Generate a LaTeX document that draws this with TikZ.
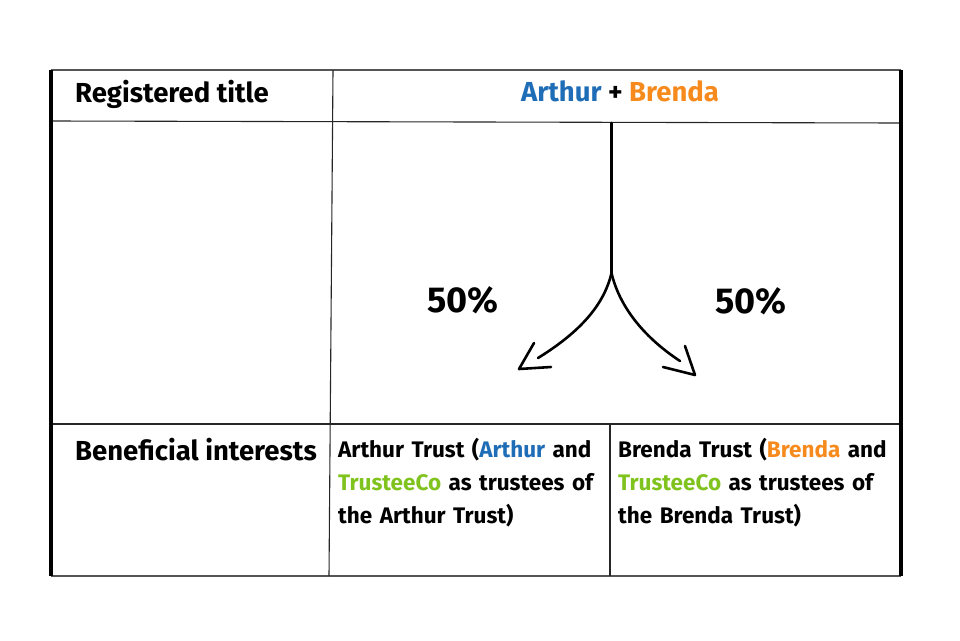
\documentclass[tikz,border=0pt]{standalone}
\usepackage{fontspec}
\setmainfont{Fira Sans}
\definecolor{artblue}{HTML}{1F6DB6}
\definecolor{brorange}{HTML}{F78A1D}
\definecolor{tgreen}{HTML}{80C31E}
\definecolor{edgegray}{HTML}{555555}
\begin{document}
\begin{tikzpicture}[x=1pt,y=-1pt,
  thin line/.style={line width=1.1pt,draw=black!85},
  frame line/.style={line width=1.6pt,draw=edgegray},
  side line/.style={line width=4pt,draw=black},
  arrow line/.style={line width=2.6pt,line cap=round,line join=round},
  label/.style={font=\bfseries\fontsize{27.5}{33}\selectfont,inner sep=0pt},
  pct/.style={font=\bfseries\fontsize{36}{40}\selectfont,inner sep=0pt},
  cell/.style={font=\bfseries\fontsize{22.5}{33}\selectfont,inner sep=0pt,text width=275pt,align=left,anchor=north west}]
\useasboundingbox (0,0) rectangle (960,640);
% grid coordinates
\coordinate (tl) at (51,70);
\coordinate (tr) at (901,70);
\coordinate (bl) at (51,576);
\coordinate (br) at (901,576);
\coordinate (h1l) at (51,121);
\coordinate (h1r) at (901,123);
\coordinate (h2l) at (51,424);
\coordinate (h2r) at (901,424);
\coordinate (v1t) at (333,70);
\coordinate (v1b) at (329,576);
\coordinate (v2t) at (610,424);
\coordinate (v2b) at (610,576);
% frame
\draw[frame line] (tl) -- (tr);
\draw[frame line] (bl) -- (br);
\draw[thin line] (h1l) -- (h1r);
\draw[thin line] (h2l) -- (h2r);
\draw[thin line] (v1t) -- (v1b);
\draw[thin line] (v2t) -- (v2b);
\draw[side line] (tl) -- (bl);
\draw[side line] (tr) -- (br);
% labels
\node[label,anchor=base west] (reg) at (75,102) {Registered title};
\node[label,anchor=base] (owners) at (620,101) {\textcolor{artblue}{Arthur} + \textcolor{brorange}{Brenda}};
\node[label,anchor=base west] (ben) at (75,460) {Beneficial interests};
\node[pct,anchor=base] (pl) at (463,312) {50\%};
\node[pct,anchor=base] (pr) at (751,313) {50\%};
\node[cell] (cA) at (338,438) {Arthur Trust (\textcolor{artblue}{Arthur} and \textcolor{tgreen}{TrusteeCo} as trustees of the Arthur Trust)};
\node[cell] (cB) at (618,438) {Brenda Trust (\textcolor{brorange}{Brenda} and \textcolor{tgreen}{TrusteeCo} as trustees of the Brenda Trust)};
% arrows
\coordinate (top) at (611.5,123);
\coordinate (split) at (611.5,273);
\coordinate (lend) at (538,358);
\coordinate (ltip) at (519,369);
\coordinate (lb1) at (534,343);
\coordinate (lb2) at (551,367);
\coordinate (rend) at (680,361);
\coordinate (rtip) at (695,375);
\coordinate (rb1) at (685,346);
\coordinate (rb2) at (663,367);
\draw[arrow line] (top) -- (split);
\draw[arrow line] (split) .. controls (604,305) and (580,332) .. (lend);
\draw[arrow line] (split) .. controls (619,305) and (642,336) .. (rend);
\draw[arrow line] (lb1) -- (ltip) -- (lb2);
\draw[arrow line] (rb1) -- (rtip) -- (rb2);
\end{tikzpicture}
\end{document}
